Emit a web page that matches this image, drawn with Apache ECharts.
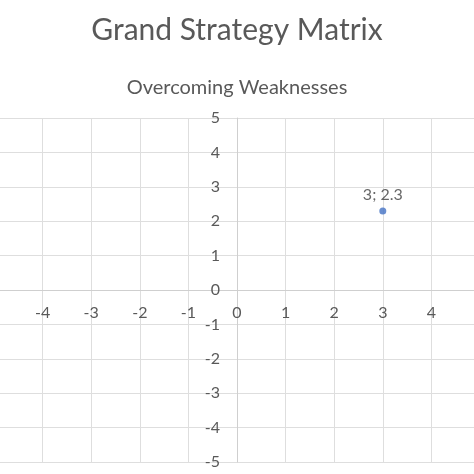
<!DOCTYPE html>
<html>
<head>
<meta charset="utf-8">
<script src="https://cdn.jsdelivr.net/npm/echarts@6/dist/echarts.min.js"></script>
<style>html,body{margin:0;padding:0;background:#fff}#c{width:474px;height:474px}</style>
</head>
<body>
<div id="c"></div>
<script>
var titleText = "Grand Strategy Matrix";
var subtitleText = "Overcoming Weaknesses";
var xValues = [3];
var yValues = [2.3];
var axisMin = -5;
var axisMax = 5;

var points = xValues.map(function (x, i) { return [x, yValues[i]]; });
var font = "Lato, 'Open Sans', sans-serif";
var gridLeft = -6, gridTop = 118, gridW = 486, gridH = 344;
// place axes through the origin via offset (origin is at the centre of the range)
var xOffset = -(gridH / 2);
var yOffset = -(gridW / 2);
var chart = echarts.init(document.getElementById('c'), null, {renderer: 'canvas'});
chart.setOption({
  animation: false,
  backgroundColor: '#fff',
  title: [
    {text: titleText, left: 'center', top: 10,
     textStyle: {fontFamily: font, fontSize: 30, fontWeight: 'normal', color: '#595959'}},
    {text: subtitleText, left: 'center', top: 73,
     textStyle: {fontFamily: font, fontSize: 20, fontWeight: 'normal', color: '#595959'}}
  ],
  grid: {left: gridLeft, top: gridTop, width: gridW, height: gridH, containLabel: false, outerBoundsMode: 'none'},
  xAxis: {
    type: 'value', min: axisMin, max: axisMax, interval: 1,
    position: 'bottom', offset: xOffset,
    axisLine: {onZero: false, show: true, lineStyle: {color: '#CFCFCF', width: 1}},
    axisTick: {show: false},
    axisLabel: {margin: 15, fontFamily: font, fontSize: 16, color: '#595959',
                showMinLabel: false, showMaxLabel: false},
    splitLine: {show: true, lineStyle: {color: '#DEDEDE', width: 1}}
  },
  yAxis: {
    type: 'value', min: axisMin, max: axisMax, interval: 1,
    position: 'left', offset: yOffset,
    axisLine: {onZero: false, show: true, lineStyle: {color: '#CFCFCF', width: 1}},
    axisTick: {show: false},
    axisLabel: {margin: 17, fontFamily: font, fontSize: 16, color: '#595959'},
    splitLine: {show: true, lineStyle: {color: '#DEDEDE', width: 1}}
  },
  series: [{
    type: 'scatter',
    data: points,
    symbol: 'circle',
    symbolSize: 7,
    itemStyle: {color: '#4472C4'},
    label: {
      show: true, position: 'top', distance: 5,
      fontFamily: font, fontSize: 16, color: '#404040',
      formatter: function (p) { return p.value[0] + '; ' + p.value[1]; }
    }
  }]
});
</script>
</body>
</html>
